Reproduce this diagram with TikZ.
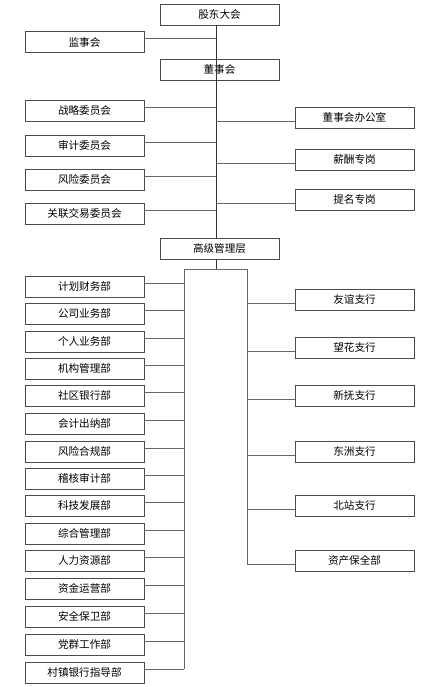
\documentclass[tikz,border=0pt]{standalone}
\usepackage{fontspec}
\setmainfont{Noto Sans CJK SC}
\usetikzlibrary{calc}
\tikzstyle{unit} = [rectangle,draw=black!70,line width=.8pt,minimum width=119pt,minimum height=21pt,inner sep=0pt,text centered,font=\fontsize{10.6}{12}\selectfont]
\tikzstyle{link} = [draw=black!60,line width=.8pt]
\tikzstyle{trunk} = [draw=black!80,line width=.8pt]

\begin{document}
\begin{tikzpicture}[x=1pt,y=-1pt]
		\useasboundingbox (0,0) rectangle (440,687);
		% governance
		\node [unit](gd) at (219.5,14.5){股东大会};
		\node [unit](js) at (84.5,42){监事会};
		\node [unit](dsh) at (219.5,69.5){董事会};
		\node [unit](zl) at (84.5,110.5){战略委员会};
		\node [unit](sj) at (84.5,145.5){审计委员会};
		\node [unit](fx) at (84.5,179.5){风险委员会};
		\node [unit](gl) at (84.5,213.5){关联交易委员会};
		\node [unit](bgs) at (354.5,117.5){董事会办公室};
		\node [unit](xc) at (354.5,159.5){薪酬专岗};
		\node [unit](tm) at (354.5,199.5){提名专岗};
		\node [unit](gj) at (219.5,248.5){高级管理层};
		% departments
		\node [unit](jh) at (84.5,286.5){计划财务部};
		\node [unit](gs) at (84.5,313.5){公司业务部};
		\node [unit](gr) at (84.5,341.5){个人业务部};
		\node [unit](jg) at (84.5,368.5){机构管理部};
		\node [unit](sq) at (84.5,395.5){社区银行部};
		\node [unit](kj) at (84.5,423.5){会计出纳部};
		\node [unit](hg) at (84.5,451.5){风险合规部};
		\node [unit](jhs) at (84.5,478.5){稽核审计部};
		\node [unit](kf) at (84.5,505.5){科技发展部};
		\node [unit](zh) at (84.5,533.5){综合管理部};
		\node [unit](rl) at (84.5,560.5){人力资源部};
		\node [unit](zj) at (84.5,588.5){资金运营部};
		\node [unit](aq) at (84.5,616.5){安全保卫部};
		\node [unit](dq) at (84.5,644.5){党群工作部};
		\node [unit](cz) at (84.5,672.5){村镇银行指导部};
		% branches
		\node [unit](yy) at (354.5,299.5){友谊支行};
		\node [unit](wh) at (354.5,347.5){望花支行};
		\node [unit](xf) at (354.5,395.5){新抚支行};
		\node [unit](dz) at (354.5,451.5){东洲支行};
		\node [unit](bz) at (354.5,505.5){北站支行};
		\node [unit](zc) at (354.5,560.5){资产保全部};
		
		\coordinate (spine) at (216,0);
		\coordinate (lbus) at (184,269);
		\coordinate (rbus) at (247,269);
		\coordinate (fork) at (216,269);
		
		\draw[trunk](gd.south -| spine)--(gj.north -| spine);
		\draw[trunk](gj.south -| spine)--(fork);
		\draw[link](lbus)--(rbus);
		\draw[link](lbus)--([yshift=3.5pt]cz.east -| lbus);
		\draw[link](rbus)--([yshift=-3.5pt]zc.west -| rbus);
		
		\draw[link]([yshift=3.5pt]js.east)--([yshift=3.5pt]js.east -| spine);
		\draw[link]([yshift=3.5pt]zl.east)--([yshift=3.5pt]zl.east -| spine);
		\draw[link]([yshift=3.5pt]sj.east)--([yshift=3.5pt]sj.east -| spine);
		\draw[link]([yshift=3.5pt]fx.east)--([yshift=3.5pt]fx.east -| spine);
		\draw[link]([yshift=3.5pt]gl.east)--([yshift=3.5pt]gl.east -| spine);
		\draw[link]([yshift=-3.5pt]bgs.west)--([yshift=-3.5pt]bgs.west -| spine);
		\draw[link]([yshift=-3.5pt]xc.west)--([yshift=-3.5pt]xc.west -| spine);
		\draw[link]([yshift=-3.5pt]tm.west)--([yshift=-3.5pt]tm.west -| spine);
		
		\draw[link]([yshift=3.5pt]jh.east)--([yshift=3.5pt]jh.east -| lbus);
		\draw[link]([yshift=3.5pt]gs.east)--([yshift=3.5pt]gs.east -| lbus);
		\draw[link]([yshift=3.5pt]gr.east)--([yshift=3.5pt]gr.east -| lbus);
		\draw[link]([yshift=3.5pt]jg.east)--([yshift=3.5pt]jg.east -| lbus);
		\draw[link]([yshift=3.5pt]sq.east)--([yshift=3.5pt]sq.east -| lbus);
		\draw[link]([yshift=3.5pt]kj.east)--([yshift=3.5pt]kj.east -| lbus);
		\draw[link]([yshift=3.5pt]hg.east)--([yshift=3.5pt]hg.east -| lbus);
		\draw[link]([yshift=3.5pt]jhs.east)--([yshift=3.5pt]jhs.east -| lbus);
		\draw[link]([yshift=3.5pt]kf.east)--([yshift=3.5pt]kf.east -| lbus);
		\draw[link]([yshift=3.5pt]zh.east)--([yshift=3.5pt]zh.east -| lbus);
		\draw[link]([yshift=3.5pt]rl.east)--([yshift=3.5pt]rl.east -| lbus);
		\draw[link]([yshift=3.5pt]zj.east)--([yshift=3.5pt]zj.east -| lbus);
		\draw[link]([yshift=3.5pt]aq.east)--([yshift=3.5pt]aq.east -| lbus);
		\draw[link]([yshift=3.5pt]dq.east)--([yshift=3.5pt]dq.east -| lbus);
		\draw[link]([yshift=3.5pt]cz.east)--([yshift=3.5pt]cz.east -| lbus);
		
		\draw[link]([yshift=-3.5pt]yy.west)--([yshift=-3.5pt]yy.west -| rbus);
		\draw[link]([yshift=-3.5pt]wh.west)--([yshift=-3.5pt]wh.west -| rbus);
		\draw[link]([yshift=-3.5pt]xf.west)--([yshift=-3.5pt]xf.west -| rbus);
		\draw[link]([yshift=-3.5pt]dz.west)--([yshift=-3.5pt]dz.west -| rbus);
		\draw[link]([yshift=-3.5pt]bz.west)--([yshift=-3.5pt]bz.west -| rbus);
		\draw[link]([yshift=-3.5pt]zc.west)--([yshift=-3.5pt]zc.west -| rbus);
		\end{tikzpicture}
\end{document}
